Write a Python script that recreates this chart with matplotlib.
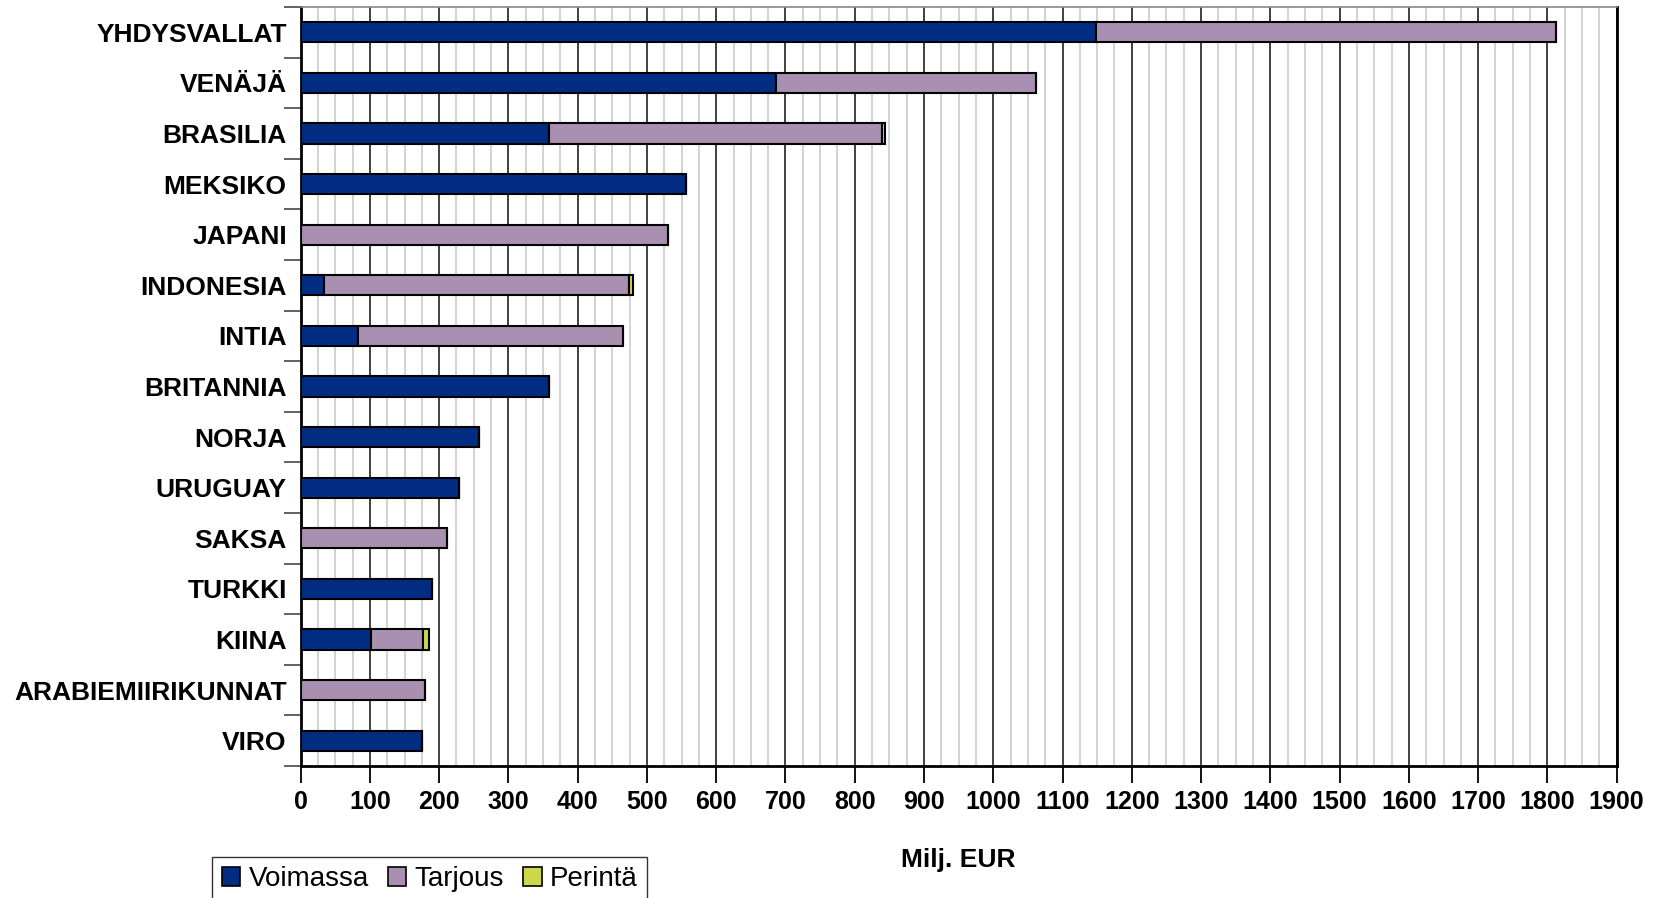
import matplotlib.pyplot as plt
import numpy as np
from matplotlib.patches import Patch

plt.rcParams['font.family'] = ['Liberation Sans', 'DejaVu Sans']

maat = ['YHDYSVALLAT', 'VENÄJÄ', 'BRASILIA', 'MEKSIKO', 'JAPANI', 'INDONESIA',
        'INTIA', 'BRITANNIA', 'NORJA', 'URUGUAY', 'SAKSA', 'TURKKI', 'KIINA',
        'ARABIEMIIRIKUNNAT', 'VIRO']
voimassa = [1149, 687, 358, 557, 0, 34, 83, 358, 257, 229, 0, 190, 101, 0, 175]
tarjous = [664, 374, 482, 0, 531, 440, 383, 0, 0, 0, 212, 0, 76, 180, 0]
perinta = [0, 0, 3, 0, 0, 6, 0, 0, 0, 0, 0, 0, 8, 0, 0]

c_voim = '#002D82'
c_tarj = '#A990B0'
c_per = '#CCD848'

fig = plt.figure(figsize=(16.6, 8.98), dpi=100)
ax = fig.add_axes([0.1811, 0.147, 0.7928, 0.8452])

y = np.arange(len(maat))
v = np.array(voimassa)
t = np.array(tarjous)
p = np.array(perinta)
h = 0.4
ax.barh(y, v, height=h, color=c_voim, edgecolor='black', linewidth=1.5, zorder=3)
ax.barh(y, t, left=v, height=h, color=c_tarj, edgecolor='black', linewidth=1.5, zorder=3)
ax.barh(y, p, left=v + t, height=h, color=c_per, edgecolor='black', linewidth=1.5, zorder=3)

ax.set_xlim(0, 1900)
ax.set_ylim(len(maat) - 0.5, -0.5)
ax.set_xticks(range(0, 1901, 100))
ax.set_xticks(range(0, 1901, 25), minor=True)
ax.grid(axis='x', which='minor', color='#cccccc', linewidth=1.2, zorder=0)
ax.grid(axis='x', which='major', color='#333333', linewidth=1.3, zorder=1)
ax.tick_params(axis='x', which='major', direction='out', length=12, width=1.3,
               labelsize=18, pad=5)
ax.tick_params(axis='x', which='minor', length=0)
for lab in ax.get_xticklabels():
    lab.set_fontweight('bold')

# y: ticks at category boundaries, labels at centres
ax.set_yticks(np.arange(-0.5, len(maat), 1))
ax.set_yticklabels([])
ax.set_yticks(y, minor=True)
ax.set_yticklabels(maat, minor=True, fontsize=19, fontweight='bold')
ax.tick_params(axis='y', which='major', direction='out', length=12, width=1.3, color='#555555')
ax.tick_params(axis='y', which='minor', length=0, pad=10)

for s in ['left', 'bottom', 'right']:
    ax.spines[s].set_linewidth(2)
    ax.spines[s].set_color('black')
ax.spines['top'].set_color('#888888')
ax.spines['top'].set_linewidth(1.2)

fig.text(0.577, 0.042, 'Milj. EUR', fontsize=19, fontweight='bold', ha='center', va='center')

handles = [Patch(facecolor=c, edgecolor='black', linewidth=1.2) for c in (c_voim, c_tarj, c_per)]
leg = fig.legend(handles, ['Voimassa', 'Tarjous', 'Perintä'], loc='upper left',
                 bbox_to_anchor=(0.128, 0.046), ncol=3, fontsize=20, frameon=True,
                 fancybox=False, edgecolor='black', handlelength=0.65, handleheight=0.65,
                 handletextpad=0.3, columnspacing=0.7, borderpad=0.35, borderaxespad=0)
leg.get_frame().set_linewidth(1)

fig.savefig('out.png', dpi=100)
